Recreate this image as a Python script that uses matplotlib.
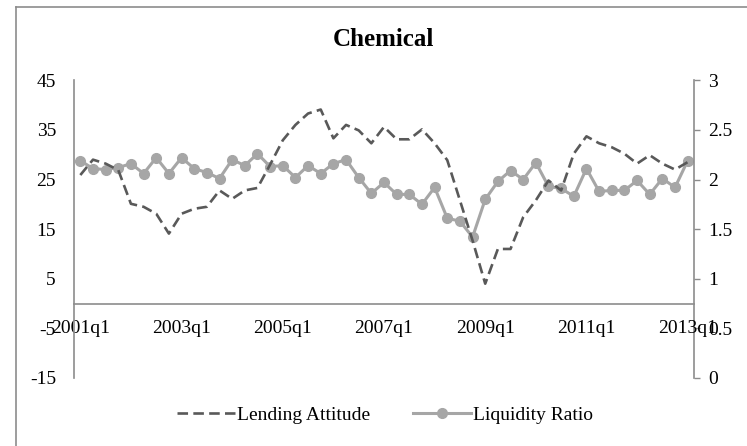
import matplotlib
matplotlib.use("Agg")
import matplotlib.pyplot as plt
from matplotlib.lines import Line2D

# quarterly data 2001q1 - 2013q1
quarters = [f"{y}q{q}" for y in range(2001, 2014) for q in range(1, 5)][:49]

lending = [25.9, 29.0, 28.2, 26.9, 20.1, 19.5, 18.1, 14.1, 18.1, 19.1,
           19.5, 22.8, 21.1, 22.8, 23.3, 28.0, 32.9, 36.0, 38.3, 39.1,
           33.3, 36.0, 34.9, 32.3, 35.6, 33.1, 33.1, 35.1, 32.3, 28.9,
           20.8, 12.7, 4.0, 11.0, 11.0, 17.4, 20.8, 24.8, 22.8, 30.2,
           33.7, 32.3, 31.5, 30.2, 28.2, 29.9, 28.2, 27.0, 28.5]

liquidity = [2.19, 2.11, 2.10, 2.12, 2.16, 2.06, 2.22, 2.06, 2.22, 2.11,
             2.07, 2.01, 2.20, 2.14, 2.26, 2.13, 2.14, 2.02, 2.14, 2.06,
             2.16, 2.20, 2.02, 1.86, 1.97, 1.85, 1.85, 1.75, 1.92, 1.61,
             1.58, 1.42, 1.80, 1.98, 2.09, 2.00, 2.17, 1.93, 1.91, 1.83,
             2.11, 1.88, 1.89, 1.89, 1.99, 1.85, 2.01, 1.92, 2.19]

tick_labels = ["2001q1", "2003q1", "2005q1", "2007q1", "2009q1", "2011q1", "2013q1"]
left_ticks = [-15, -5, 5, 15, 25, 35, 45]
right_ticks = [0, 0.5, 1, 1.5, 2, 2.5, 3]

plt.rcParams["font.family"] = ["Liberation Serif", "DejaVu Serif"]
FS = 14
axis_grey = "#8c8c8c"

fig = plt.figure(figsize=(7.47, 4.46), dpi=100)
ax = fig.add_axes([74 / 747, 1 - 378 / 446, 620 / 747, (378 - 80.25) / 446])
ax2 = ax.twinx()
ax.set_zorder(ax2.get_zorder() + 1)
ax.patch.set_visible(False)

x = list(range(len(quarters)))
ax.plot(x, lending, color="#595959", lw=1.9, dashes=(4, 2), label="Lending Attitude")
ax2.plot(x, liquidity, color="#a6a6a6", lw=2.2, marker="o", ms=7,
         label="Liquidity Ratio")

# x axis crosses the left axis at 0
ax.spines["bottom"].set_position(("data", 0))

ax.set_xlim(-0.5, len(quarters) - 0.5)
ax.set_ylim(-15, 45)
ax2.set_ylim(0, 3)

ax.set_yticks(left_ticks)
ax.set_yticklabels([str(t) for t in left_ticks])
ax2.set_yticks(right_ticks)
ax2.set_yticklabels([f"{t:g}" for t in right_ticks])

pos = [quarters.index(t) for t in tick_labels]
ax.set_xticks(pos)
ax.set_xticklabels(tick_labels)

for a in (ax, ax2):
    a.spines["top"].set_visible(False)
    for s in ("left", "right", "bottom"):
        a.spines[s].set_color(axis_grey)
        a.spines[s].set_linewidth(1.2)
ax.spines["right"].set_visible(False)
ax2.spines["left"].set_visible(False)
ax2.spines["bottom"].set_visible(False)

ax.tick_params(axis="x", length=0, pad=12, labelsize=FS)
ax.tick_params(axis="y", length=0, pad=13, labelsize=FS)
ax2.tick_params(axis="y", length=4, width=1, color=axis_grey, pad=6, labelsize=FS)

fig.text(383 / 747, 1 - 40 / 446, "Chemical", ha="center", va="center",
         fontsize=18, fontweight="bold")

h1, l1 = ax.get_legend_handles_labels()
h2, l2 = ax2.get_legend_handles_labels()
fig.legend(h1 + h2, l1 + l2, loc="center", bbox_to_anchor=(385 / 747, 1 - 415 / 446),
           ncol=2, frameon=False, fontsize=FS, handlelength=3.0,
           handletextpad=0.1, columnspacing=2.2)

# chart area border (left and top edges visible)
fig.add_artist(Line2D([16 / 747, 16 / 747], [0, 1 - 7 / 446], color=axis_grey, lw=1.2))
fig.add_artist(Line2D([16 / 747, 1], [1 - 7 / 446, 1 - 7 / 446], color=axis_grey, lw=1.2))

fig.savefig("out.png", dpi=100)
